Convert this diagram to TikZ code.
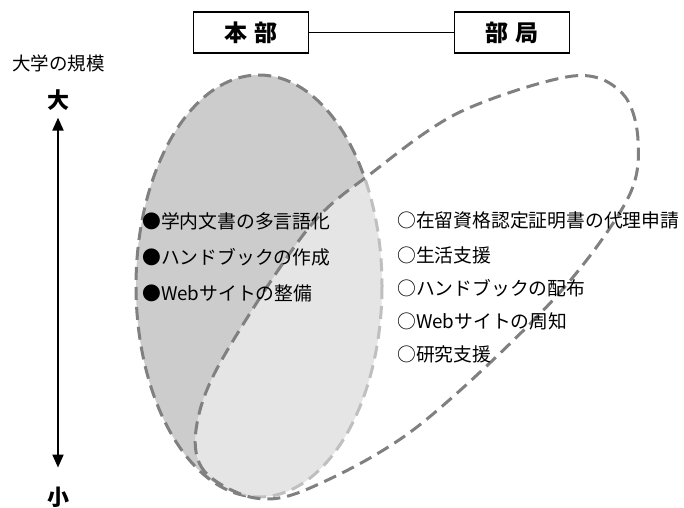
\documentclass[tikz,border=0pt]{standalone}
\usepackage{fontspec}
\setmainfont{Noto Sans CJK JP}
\usetikzlibrary{arrows.meta}
\definecolor{darkfill}{gray}{0.8}
\definecolor{edgegray}{gray}{0.5}
\begin{document}
\begin{tikzpicture}[x=1pt,y=-1pt,
  boxnode/.style={draw,line width=1.2pt,minimum width=115pt,minimum height=41pt,inner sep=0,
    font=\fontsize{23}{26}\selectfont\bfseries},
  listtext/.style={anchor=west,inner sep=0,font=\fontsize{18.8}{21}\selectfont},
  rim/.style={draw=edgegray,line width=3pt,dash pattern=on 13pt off 7pt},
  scalelabel/.style={inner sep=0,font=\fontsize{22}{24}\selectfont\bfseries},
  tri/.tip={Triangle[width=11pt,length=13pt]}
]
\useasboundingbox (0,0) rectangle (684,507);
% left ellipse
\path[fill=darkfill,rim] (259,286) ellipse [x radius=123, y radius=211];
% tilted shape
\draw[rim,fill=white,fill opacity=0.5] plot[smooth cycle,tension=0.55] coordinates {
  (255,498) (205,472) (196,430) (220,363) (307,230) (373,172) (460,112) (573,76)
  (622,93) (638,140) (627,200) (553,300) (417,427) (310,488)};
% boxes
\node[boxnode] (honbu) at (251,32.5) {本\hspace{7pt}部};
\node[boxnode] (bukyoku) at (512,32.5) {部\hspace{7pt}局};
\draw[line width=0.8pt] (honbu) -- (bukyoku);
% scale
\node[anchor=west,inner sep=0,font=\fontsize{18.5}{20}\selectfont] (kibo) at (12,63) {大学の規模};
\node[scalelabel] (dai) at (58,100) {大};
\node[scalelabel] (sho) at (58,497) {小};
\draw[line width=2pt,tri-tri,shorten <=7pt,shorten >=19pt] (dai) -- (sho);
% lists
\node[listtext] (l1) at (142,221) {●学内文書の多言語化};
\node[listtext] (l2) at (142,257) {●ハンドブックの作成};
\node[listtext] (l3) at (142,293) {●Webサイトの整備};
\node[listtext] (r1) at (397,220) {○在留資格認定証明書の代理申請};
\node[listtext] (r2) at (397,255) {○生活支援};
\node[listtext] (r3) at (397,288) {○ハンドブックの配布};
\node[listtext] (r4) at (397,321) {○Webサイトの周知};
\node[listtext] (r5) at (397,354) {○研究支援};
\end{tikzpicture}
\end{document}
